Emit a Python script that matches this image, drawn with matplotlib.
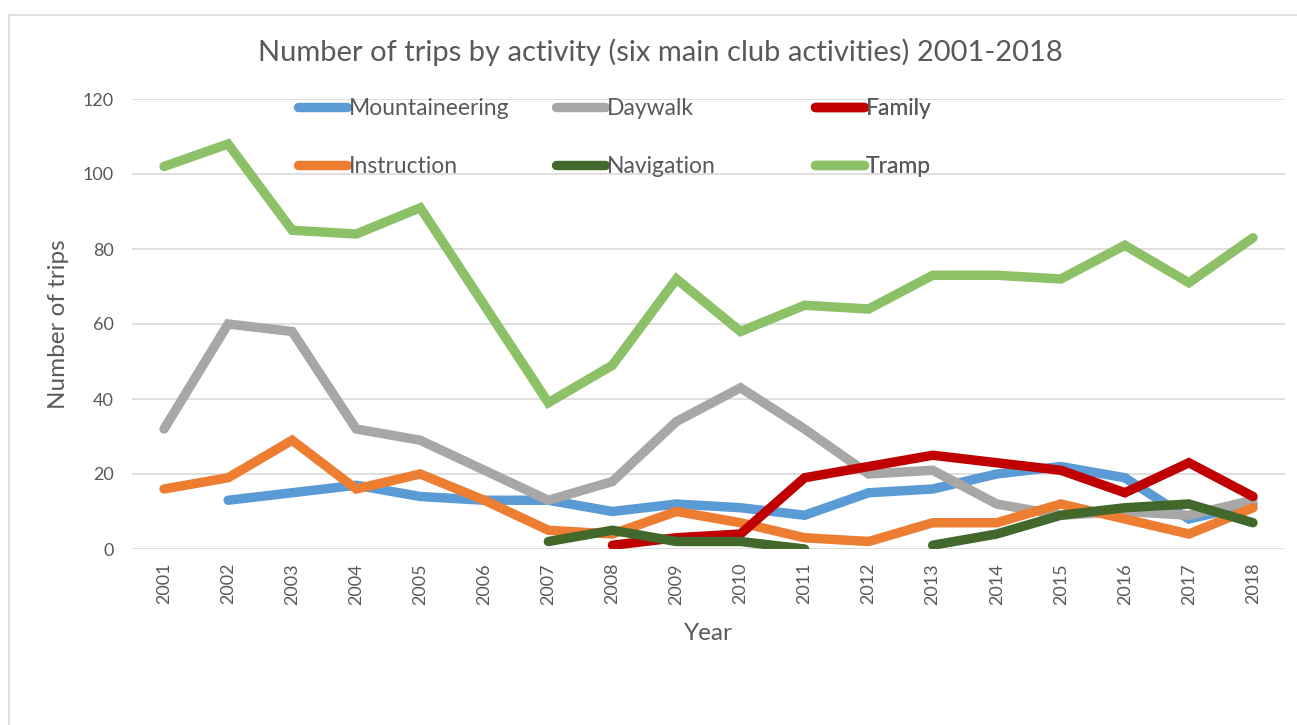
import numpy as np
import matplotlib.pyplot as plt
from matplotlib.lines import Line2D

plt.rcParams['font.family'] = ['Lato', 'DejaVu Sans']

years = [str(y) for y in range(2001, 2019)]
nan = np.nan

mountaineering = [nan, 13, 15, 17, 14, 13, 13, 10, 12, 11, 9, 15, 16, 20, 22, 19, 8, 12]
daywalk = [32, 60, 58, 32, 29, 21, 13, 18, 34, 43, 32, 20, 21, 12, 9, 10, 9, 13]
family = [nan, nan, nan, nan, nan, nan, nan, 1, 3, 4, 19, 22, 25, 23, 21, 15, 23, 14]
instruction = [16, 19, 29, 16, 20, 13, 5, 4, 10, 7, 3, 2, 7, 7, 12, 8, 4, 11]
navigation = [nan, nan, nan, nan, nan, nan, 2, 5, 2, 2, 0, nan, 1, 4, 9, 11, 12, 7]
tramp = [102, 108, 85, 84, 91, 65, 39, 49, 72, 58, 65, 64, 73, 73, 72, 81, 71, 83]

series = [
    ("Mountaineering", mountaineering, "#5B9BD5"),
    ("Daywalk", daywalk, "#A9A6A6"),
    ("Family", family, "#C00000"),
    ("Instruction", instruction, "#ED7D31"),
    ("Navigation", navigation, "#43682B"),
    ("Tramp", tramp, "#8CC168"),
]

W, H = 1297, 725
fig = plt.figure(figsize=(W / 100, H / 100), dpi=100)
ax = fig.add_axes([132 / W, 1 - 549 / H, (1285 - 132) / W, (549 - 99) / H])

x = np.arange(len(years))
lw = 6.8
# draw order as in the reference (tramp on top of the others)
for name, vals, col in [series[0], series[1], series[3], series[2], series[4], series[5]]:
    ax.plot(x, vals, color=col, lw=lw, solid_capstyle='round', solid_joinstyle='miter', zorder=3)

txt = '#595959'
ax.set_xlim(-0.5, len(years) - 0.5)
ax.set_ylim(0, 120)
ax.set_yticks(range(0, 121, 20))
ax.set_xticks(x)
ax.set_xticklabels(years, rotation=90)
ax.tick_params(axis='both', length=0, colors=txt, labelsize=13)
ax.tick_params(axis='y', pad=13)
ax.tick_params(axis='x', pad=10)
ax.grid(axis='y', color='#D9D9D9', lw=1.2)
ax.set_axisbelow(True)
for s in ax.spines.values():
    s.set_visible(False)

ax.set_ylabel("Number of trips", color=txt, fontsize=17.5, labelpad=10)
ax.set_xlabel("Year", color=txt, fontsize=17.5, labelpad=13)
fig.text(660 / W, 1 - 52 / H, "Number of trips by activity (six main club activities) 2001-2018",
         ha='center', va='center', color=txt, fontsize=21)

# legend: three columns of two rows each, like the Excel layout
col_x = [298, 556, 815]
for i in range(3):
    top, bot = series[i], series[i + 3]
    handles = [Line2D([], [], color=top[2], lw=lw, solid_capstyle='round'),
               Line2D([], [], color=bot[2], lw=lw, solid_capstyle='round')]
    leg = ax.legend(handles, [top[0], bot[0]], loc='upper left',
                    bbox_to_anchor=((col_x[i] - 132) / (1285 - 132), 1 + 1 / 450),
                    frameon=False, fontsize=16.5, handlelength=2.15, handletextpad=0.05,
                    labelspacing=1.63, borderpad=0, borderaxespad=0, labelcolor=txt)
    ax.add_artist(leg)

# chart area border
fig.add_artist(Line2D([8.5 / W, 8.5 / W], [0, 1 - 14.5 / H], color='#D9D9D9', lw=1.2))
fig.add_artist(Line2D([8.5 / W, 1], [1 - 14.5 / H, 1 - 14.5 / H], color='#D9D9D9', lw=1.2))

fig.savefig("out.png", dpi=100)
